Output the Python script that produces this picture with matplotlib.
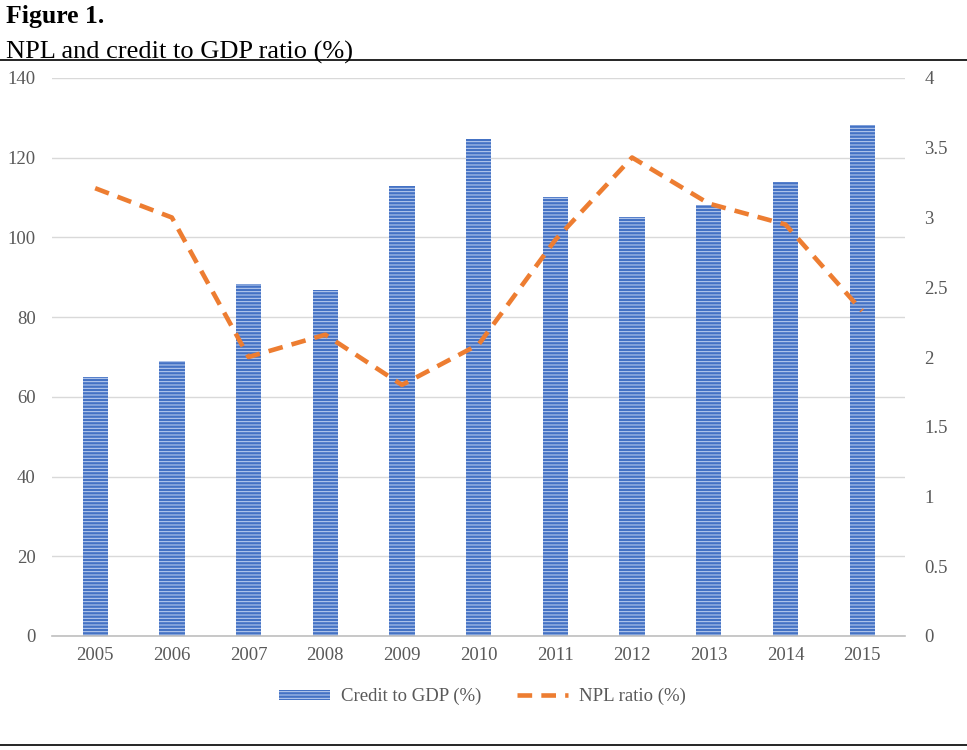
import matplotlib.pyplot as plt
import matplotlib.lines as mlines
import numpy as np

years = ['2005', '2006', '2007', '2008', '2009', '2010', '2011', '2012', '2013', '2014', '2015']
credit_gdp = [65, 69, 88.3, 86.8, 112.9, 124.7, 110.1, 105.1, 108.1, 113.9, 128.2]
npl_ratio = [3.21, 3.0, 2.0, 2.16, 1.80, 2.09, 2.84, 3.43, 3.10, 2.95, 2.33]
left_ticks = [0, 20, 40, 60, 80, 100, 120, 140]
right_ticks = [0, 0.5, 1, 1.5, 2, 2.5, 3, 3.5, 4]
right_labels = ['0', '0.5', '1', '1.5', '2', '2.5', '3', '3.5', '4']

plt.rcParams['font.family'] = ['Liberation Serif', 'DejaVu Serif']
plt.rcParams['hatch.linewidth'] = 0.7
plt.rcParams['hatch.color'] = '#c2d3f2'

fig = plt.figure(figsize=(9.67, 7.5), dpi=100)

# titre
fig.text(0.006, 0.993, 'Figure 1.', fontsize=18.5, fontweight='bold', va='top', ha='left')
fig.text(0.006, 0.946, 'NPL and credit to GDP ratio (%)', fontsize=19, va='top', ha='left')
fig.add_artist(mlines.Line2D([0.0, 1.0], [0.92, 0.92], color='black', lw=1.2))
fig.add_artist(mlines.Line2D([0.0, 1.0], [0.007, 0.007], color='black', lw=1.2))

ax = fig.add_axes([0.054, 0.152, 0.882, 0.744])
x = np.arange(len(years))
ax.bar(x, credit_gdp, width=0.33, color='#4472C4', edgecolor='#c2d3f2', hatch='-----',
       linewidth=0, label='Credit to GDP (%)', zorder=2)
ax.set_ylim(0, 140)
ax.set_xlim(-0.56, len(years) - 0.44)
ax.set_yticks(left_ticks)
ax.set_xticks(x)
ax.set_xticklabels(years)
ax.yaxis.grid(True, color='#d9d9d9', lw=1, zorder=0)
ax.set_axisbelow(True)
for s in ['top', 'right', 'left']:
    ax.spines[s].set_visible(False)
ax.spines['bottom'].set_color('#bfbfbf')
ax.spines['bottom'].set_linewidth(1.2)
ax.tick_params(axis='both', length=0, labelsize=13.5, colors='#595959')
ax.tick_params(axis='y', pad=12)
ax.tick_params(axis='x', pad=8)

ax2 = ax.twinx()
ax2.plot(x, npl_ratio, color='#ED7D31', lw=3.3, ls=(0, (3.2, 2)), label='NPL ratio (%)', zorder=3)
ax2.set_ylim(0, 4)
ax2.set_yticks(right_ticks)
ax2.set_yticklabels(right_labels)
for s in ['top', 'right', 'left', 'bottom']:
    ax2.spines[s].set_visible(False)
ax2.tick_params(axis='y', length=0, labelsize=13.5, colors='#595959', pad=14)

h1, l1 = ax.get_legend_handles_labels()
h2, l2 = ax2.get_legend_handles_labels()
leg = fig.legend(h1 + h2, l1 + l2, loc='center', bbox_to_anchor=(0.499, 0.071), ncol=2,
                 frameon=False, fontsize=13.5, handlelength=2.7, handleheight=0.45,
                 handletextpad=0.6, columnspacing=1.9, labelcolor='#595959')

fig.savefig('out.png', dpi=100)
